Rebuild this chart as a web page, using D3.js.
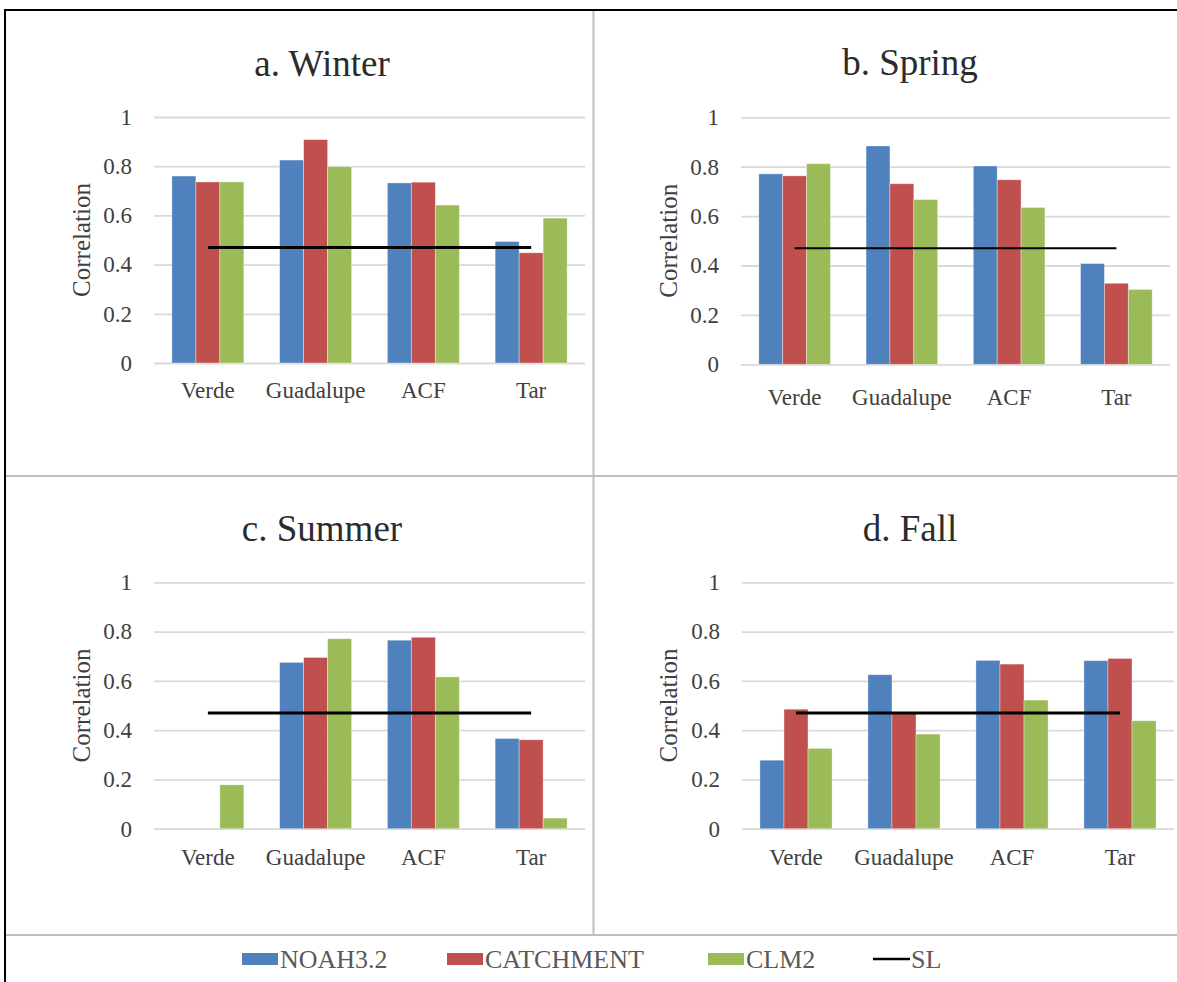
<!DOCTYPE html>
<html>
<head>
<meta charset="utf-8">
<script src="https://cdn.jsdelivr.net/npm/d3@7"></script>
<style>
  html, body { margin: 0; padding: 0; background: #ffffff; }
  svg { display: block; }
  svg text { font-family: "Liberation Serif", "Tinos", "Times New Roman", "Nimbus Roman", "DejaVu Serif", serif !important; }
</style>
</head>
<body>
<svg id="chart" width="1177" height="982"></svg>
<script>
// ---------------- DATA ----------------
const categories = ["Verde", "Guadalupe", "ACF", "Tar"];
const seriesNames = ["NOAH3.2", "CATCHMENT", "CLM2"];
const lineName = "SL";
const panelTitles = ["a. Winter", "b. Spring", "c. Summer", "d. Fall"];
const yTickValues = [0, 0.2, 0.4, 0.6, 0.8, 1];
const yTickLabels = ["0", "0.2", "0.4", "0.6", "0.8", "1"];
const yAxisTitle = "Correlation";

// values per panel: [series][category]
const winterNOAH = [0.76, 0.825, 0.732, 0.494];
const winterCATCH = [0.736, 0.908, 0.735, 0.448];
const winterCLM = [0.736, 0.798, 0.642, 0.589];
const winterSL = [0.47, 0.47, 0.47, 0.47];

const springNOAH = [0.771, 0.884, 0.803, 0.408];
const springCATCH = [0.763, 0.731, 0.747, 0.328];
const springCLM = [0.812, 0.667, 0.635, 0.303];
const springSL = [0.47, 0.47, 0.47, 0.47];

const summerNOAH = [null, 0.675, 0.765, 0.366];
const summerCATCH = [null, 0.695, 0.777, 0.361];
const summerCLM = [0.178, 0.771, 0.616, 0.043];
const summerSL = [0.47, 0.47, 0.47, 0.47];

const fallNOAH = [0.278, 0.625, 0.683, 0.682];
const fallCATCH = [0.485, 0.47, 0.668, 0.691];
const fallCLM = [0.326, 0.384, 0.522, 0.438];
const fallSL = [0.47, 0.47, 0.47, 0.47];

// ---------------- STYLE / LAYOUT ----------------
const FONT = '"Liberation Serif", "Tinos", "Times New Roman", "Nimbus Roman", "DejaVu Serif", serif';
const colors = ["#4F81BD", "#C0504D", "#9BBB59"];
const lineColor = "#000000";
const gridColor = "#d9d9d9";
const dividerColor = "#bfbfbf";

const panels = [
  { title: panelTitles[0], values: [winterNOAH, winterCATCH, winterCLM], sl: winterSL,
    x0: 154, x1: 585, yTop: 117, yBot: 363, titleX: 322, titleY: 76, catPad: 18.7, yTitleX: 81, slW: 3 },
  { title: panelTitles[1], values: [springNOAH, springCATCH, springCLM], sl: springSL,
    x0: 741, x1: 1170, yTop: 117.3, yBot: 364.3, titleX: 910, titleY: 75, catPad: 24.4, yTitleX: 668, slW: 2 },
  { title: panelTitles[2], values: [summerNOAH, summerCATCH, summerCLM], sl: summerSL,
    x0: 154, x1: 585, yTop: 582.3, yBot: 828.7, titleX: 322, titleY: 541, catPad: 20, yTitleX: 81, slW: 3 },
  { title: panelTitles[3], values: [fallNOAH, fallCATCH, fallCLM], sl: fallSL,
    x0: 742, x1: 1174, yTop: 582.3, yBot: 828.7, titleX: 910, titleY: 541, catPad: 20, yTitleX: 668, slW: 3 }
];

const svg = d3.select("#chart").attr("font-family", FONT);

// frame and dividers
svg.append("line").attr("x1", 5).attr("x2", 1177).attr("y1", 10).attr("y2", 10)
  .attr("stroke", "#000").attr("stroke-width", 2);
svg.append("line").attr("x1", 5).attr("x2", 5).attr("y1", 9).attr("y2", 982)
  .attr("stroke", "#000").attr("stroke-width", 2);
svg.append("line").attr("x1", 593.5).attr("x2", 593.5).attr("y1", 11).attr("y2", 935)
  .attr("stroke", dividerColor).attr("stroke-width", 2);
svg.append("line").attr("x1", 6).attr("x2", 1177).attr("y1", 476).attr("y2", 476)
  .attr("stroke", dividerColor).attr("stroke-width", 2);
svg.append("line").attr("x1", 6).attr("x2", 1177).attr("y1", 935).attr("y2", 935)
  .attr("stroke", dividerColor).attr("stroke-width", 2);

panels.forEach(p => {
  const g = svg.append("g");
  const x = d3.scaleBand().domain(categories).range([p.x0, p.x1])
    .paddingInner(0.332).paddingOuter(0.166);
  const xs = d3.scaleBand().domain(d3.range(seriesNames.length)).range([0, x.bandwidth()]).padding(0);
  const y = d3.scaleLinear().domain([0, 1]).range([p.yBot, p.yTop]);

  // y axis with gridlines
  const ya = g.append("g").attr("transform", `translate(${p.x0},0)`)
    .call(d3.axisLeft(y).tickValues(yTickValues)
      .tickFormat((d, i) => yTickLabels[i])
      .tickSize(-(p.x1 - p.x0)).tickPadding(22));
  ya.attr("font-family", FONT).attr("font-size", 23);
  ya.select(".domain").remove();
  ya.selectAll(".tick line").attr("stroke", gridColor).attr("stroke-width", 1.8);
  ya.selectAll(".tick text").attr("fill", "#404040");

  // bars
  p.values.forEach((vals, si) => {
    g.append("g").selectAll("rect")
      .data(categories.map((c, ci) => ({ c, v: vals[ci] })).filter(d => d.v !== null))
      .join("rect")
      .attr("x", d => x(d.c) + xs(si))
      .attr("width", xs.bandwidth())
      .attr("y", d => y(d.v))
      .attr("height", d => y(0) - y(d.v))
      .attr("fill", colors[si])
      .attr("stroke", "#ffffff").attr("stroke-opacity", 0.45).attr("stroke-width", 0.8);
  });

  // x axis labels
  const xa = g.append("g").attr("transform", `translate(0,${p.yBot})`)
    .call(d3.axisBottom(x).tickSize(0).tickPadding(p.catPad));
  xa.attr("font-family", FONT).attr("font-size", 23);
  xa.select(".domain").remove();
  xa.selectAll(".tick text").attr("fill", "#404040");

  // SL line
  const line = d3.line().x((d, i) => x(categories[i]) + x.bandwidth() / 2).y(d => y(d));
  g.append("path").datum(p.sl).attr("d", line)
    .attr("fill", "none").attr("stroke", lineColor).attr("stroke-width", p.slW);

  // title
  g.append("text").attr("x", p.titleX).attr("y", p.titleY).attr("text-anchor", "middle")
    .attr("fill", "#2b2b2b").attr("font-size", 37).text(p.title);

  // y axis title
  g.append("text")
    .attr("transform", `translate(${p.yTitleX},${(p.yTop + p.yBot) / 2}) rotate(-90)`)
    .attr("text-anchor", "middle").attr("dy", "0.35em")
    .attr("fill", "#404040").attr("font-size", 25).text(yAxisTitle);
});

// legend
const legendX = [242, 447, 708, 873];
const legendItems = seriesNames.map((n, i) => ({ name: n, color: colors[i], type: "rect" }))
  .concat([{ name: lineName, color: lineColor, type: "line" }]);
const lg = svg.append("g");
legendItems.forEach((it, i) => {
  const lx = legendX[i];
  if (it.type === "rect") {
    lg.append("rect").attr("x", lx).attr("y", 953).attr("width", 36).attr("height", 12)
      .attr("fill", it.color);
  } else {
    lg.append("line").attr("x1", lx).attr("x2", lx + 37).attr("y1", 959).attr("y2", 959)
      .attr("stroke", it.color).attr("stroke-width", 2.5);
  }
  lg.append("text").attr("x", lx + 38).attr("y", 968)
    .attr("fill", "#595959").attr("font-size", 26).text(it.name);
});
</script>
</body>
</html>
